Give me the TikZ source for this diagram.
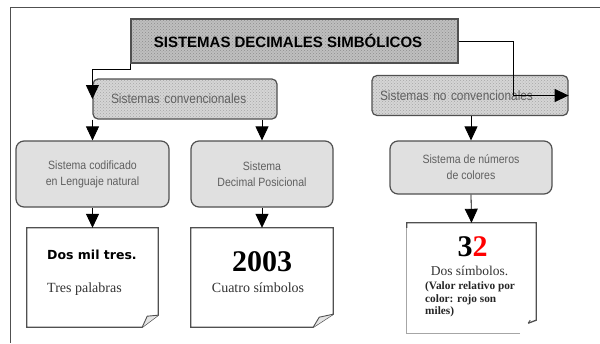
\documentclass[tikz,border=0pt]{standalone}
\usepackage{fontspec}
\setmainfont{Liberation Serif}
\newfontfamily\narrowsans[FakeStretch=0.88]{Liberation Sans}
\newfontfamily\titlesans{Liberation Sans}
\newfontfamily\casualsans{DejaVu Sans}
\usetikzlibrary{arrows.meta,patterns}
\definecolor{edge}{HTML}{505050}
\definecolor{midfill}{HTML}{E0E0E0}
\definecolor{softtext}{HTML}{606060}
\begin{document}
\begin{tikzpicture}[x=1pt,y=-1pt,
  arr/.style={line width=0.8pt,black,-{Triangle[width=13pt,length=14pt]}},
  titlebox/.style={draw=edge,line width=1.2pt,preaction={fill=gray!50},
    pattern=crosshatch dots,pattern color=gray!90,inner sep=0pt,
    minimum width=327pt,minimum height=44pt,
    font=\titlesans\bfseries\fontsize{15}{18}\selectfont},
  patbox/.style={draw=edge,line width=1.2pt,rounded corners=5pt,
    preaction={fill=gray!33},pattern=crosshatch dots,pattern color=gray!70,
    inner ysep=0pt,minimum height=40pt,align=left,text=softtext,
    font=\narrowsans\fontsize{13.5}{15}\selectfont},
  midbox/.style={draw=edge,line width=1.2pt,rounded corners=8pt,fill=midfill,
    inner sep=0pt,align=center,text=softtext,
    font=\narrowsans\fontsize{12}{16}\selectfont},
  paperanchor/.style={inner sep=0pt},
  paperline/.style={draw=edge,line width=1.3pt,fill=white},
  flap/.style={draw=edge,line width=0.9pt,fill=gray!20},
  txt/.style={inner sep=0pt}
]
\useasboundingbox (0,0) rectangle (600,343);
% outer frame
\draw[edge,line width=1.2pt] (600,7.5) -- (10.7,7.5) -- (10.7,343);

% title
\node[titlebox] (title) at (294.5,41) {SISTEMAS DECIMALES SIMBÓLICOS\hspace*{13pt}};

% pattern boxes
\node[patbox,inner xsep=18pt,text width=148pt] (conv) at (185,99) {Sistemas convencionales};
\node[patbox,inner xsep=8pt,text width=180pt] (noconv) at (470,95.5) {Sistemas no convencionales};

% mid boxes
\node[midbox,minimum width=153pt,minimum height=66pt] (cod) at (92.5,174) {Sistema codificado\\en Lenguaje natural};
\node[midbox,minimum width=142pt,minimum height=66pt] (dec) at (262,174) {Sistema\\Decimal Posicional};
\node[midbox,minimum width=162pt,minimum height=53pt] (col) at (471,167.5) {Sistema de números\\de colores};

% paper boxes (anchors)
\node[paperanchor,minimum width=131pt,minimum height=99pt] (p1) at (92.5,277.5) {};
\node[paperanchor,minimum width=142pt,minimum height=99pt] (p2) at (262,277.5) {};
\node[paperanchor,minimum width=129pt,minimum height=110pt] (p3) at (471.5,278) {};

\draw[paperline] (p1.north west) -- (p1.north east) -- ([yshift=12pt]p1.south east)
  -- ([xshift=-16pt]p1.south east) -- (p1.south west) -- cycle;
\draw[flap] ([xshift=-16pt]p1.south east) -- ([xshift=-11pt,yshift=11pt]p1.south east) -- ([yshift=12pt]p1.south east);

\draw[paperline] (p2.north west) -- (p2.north east) -- ([yshift=13pt]p2.south east)
  -- ([xshift=-20pt]p2.south east) -- (p2.south west) -- cycle;
\draw[flap] ([xshift=-20pt]p2.south east) -- ([xshift=-14pt,yshift=10pt]p2.south east) -- ([yshift=13pt]p2.south east);

\draw[draw=gray!70,line width=0.9pt] ([xshift=-16pt]p3.south east) -- (p3.south west) -- (p3.north west);
\draw[edge,line width=1.3pt] ([yshift=-5pt]p3.north west) -- (p3.north west) -- (p3.north east)
  -- ([yshift=13pt]p3.south east) -- ([xshift=-8pt,yshift=10pt]p3.south east);
\draw[edge,line width=0.9pt] ([xshift=-8pt,yshift=10pt]p3.south east) -- ([xshift=-6pt,yshift=13pt]p3.south east);

% paper texts
\node[txt,anchor=west,font=\casualsans\bfseries\fontsize{12.5}{15}\selectfont] (t1a) at (47,255) {Dos mil tres.};
\node[txt,anchor=west,text=black!80,font=\fontsize{14}{16}\selectfont] (t1b) at (47,289) {Tres palabras};

\node[txt,font=\bfseries\fontsize{30}{34}\selectfont] (t2a) at (262,262) {2003};
\node[txt,text=black!80,font=\fontsize{14}{16}\selectfont] (t2b) at (258,288) {Cuatro símbolos};

\node[txt,font=\bfseries\fontsize{30}{34}\selectfont] (t3a) at (472.5,247) {3\textcolor{red}{2}};
\node[txt,text=black!80,font=\fontsize{13.5}{16}\selectfont] (t3b) at (469.5,271) {Dos símbolos.};
\node[txt,anchor=west,align=left,text=black!85,font=\bfseries\fontsize{11.3}{12.5}\selectfont] (t3c) at (425,299.5) {(Valor relativo por\\color: rojo son\\miles)};

% connectors
\draw[arr] (title.south west) -- ++(0,6) -| (conv.west);
\coordinate (bendR) at ([xshift=-55pt]noconv.east);
\draw[arr] (title.east) -| (bendR) -- (noconv.east);
\draw[arr] (cod.north |- conv.south) -- (cod.north);
\draw[arr] (dec.north |- conv.south) -- (dec.north);
\draw[arr] (col.north |- noconv.south) -- (col.north);
\draw[arr] (cod.south) -- (p1.north);
\draw[arr] (dec.south) -- (p2.north);
\draw[arr] (col.south) -- (p3.north);
\end{tikzpicture}
\end{document}
